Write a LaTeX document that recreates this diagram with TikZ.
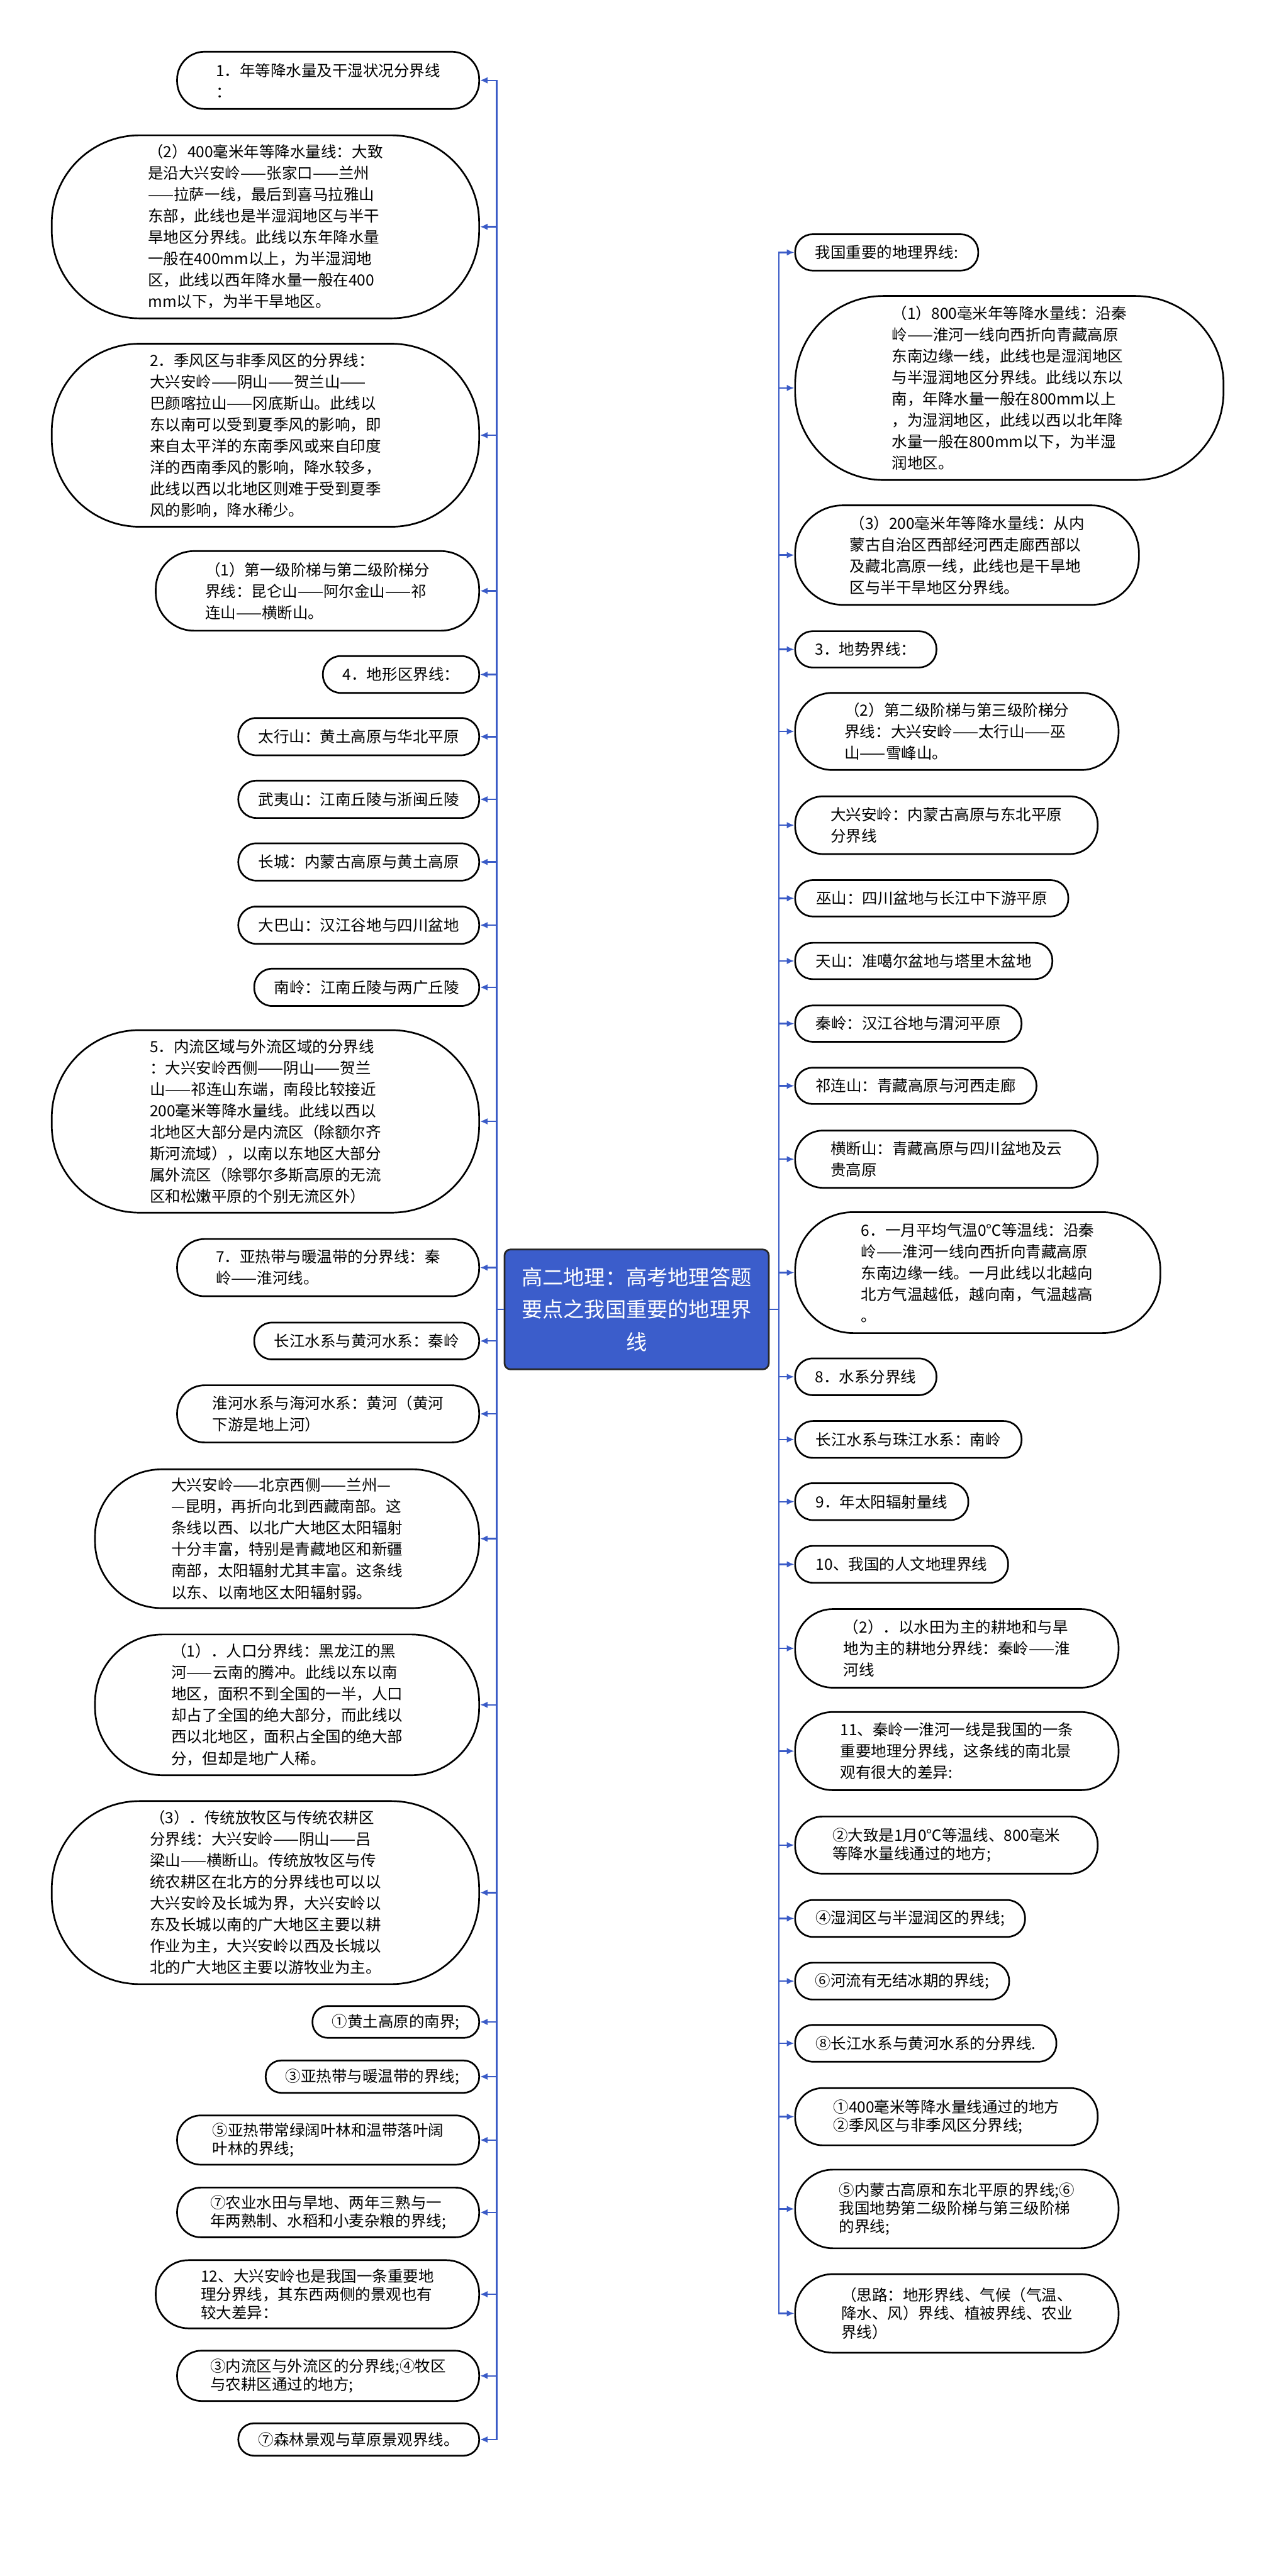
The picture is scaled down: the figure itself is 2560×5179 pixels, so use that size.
\documentclass[tikz,border=0pt]{standalone}
\usepackage{fontspec}
\setmainfont{Noto Sans CJK SC}
\usetikzlibrary{arrows.meta}
\definecolor{linkblue}{HTML}{3A5BC7}
\definecolor{rootblue}{HTML}{3B5DCB}
\tikzset{
  pillbox/.style 2 args={draw=black, line width=3.4pt, fill=white,
    minimum width=#1pt, minimum height=#2pt, rounded corners={0.48*#2pt},
    inner sep=0pt, align=left, font=\fontsize{31}{43}\selectfont},
  compact/.style={font=\fontsize{31}{37}\selectfont},
  conn/.style={draw=linkblue, line width=3pt, -{Latex[length=15pt,width=13pt]}},
  rootbox/.style={draw=black!85, line width=3.4pt, fill=rootblue, text=white,
    minimum width=531pt, minimum height=241pt, rounded corners=12pt,
    inner sep=0pt, align=center, font=\fontsize{42}{65}\selectfont}
}
\begin{document}
\begin{tikzpicture}[x=1pt,y=-1pt]
\fill[white] (0,0) rectangle (2560,5179);
\useasboundingbox (0,0) rectangle (2560,5179);

\node[rootbox] (root) at (1279.5,2632.5) {高二地理：高考地理答题\\要点之我国重要的地理界\\线};
\coordinate (lt) at (998,2632.5);
\coordinate (rt) at (1565,2632.5);

% ---------- left column ----------
\node[pillbox={607}{115}] (L1) at (659.5,161.5) {1．年等降水量及干湿状况分界线\\：};
\node[pillbox={859}{368}] (L2) at (533.5,456) {（2）400毫米年等降水量线：大致\\是沿大兴安岭——张家口——兰州\\——拉萨一线，最后到喜马拉雅山\\东部，此线也是半湿润地区与半干\\旱地区分界线。此线以东年降水量\\一般在400mm以上，为半湿润地\\区，此线以西年降水量一般在400\\mm以下，为半干旱地区。};
\node[pillbox={859}{368}] (L3) at (533.5,875) {2．季风区与非季风区的分界线：\\大兴安岭——阴山——贺兰山——\\巴颜喀拉山——冈底斯山。此线以\\东以南可以受到夏季风的影响，即\\来自太平洋的东南季风或来自印度\\洋的西南季风的影响，降水较多，\\此线以西以北地区则难于受到夏季\\风的影响，降水稀少。};
\node[pillbox={650}{160}] (L4) at (638,1188) {（1）第一级阶梯与第二级阶梯分\\界线：昆仑山——阿尔金山——祁\\连山——横断山。};
\node[pillbox={314}{74}] (L5) at (806,1356) {4．地形区界线：};
\node[pillbox={484}{75}] (L6) at (721,1481) {太行山：黄土高原与华北平原};
\node[pillbox={484}{75}] (L7) at (721,1607) {武夷山：江南丘陵与浙闽丘陵};
\node[pillbox={484}{75}] (L8) at (721,1733) {长城：内蒙古高原与黄土高原};
\node[pillbox={484}{75}] (L9) at (721,1860) {大巴山：汉江谷地与四川盆地};
\node[pillbox={452}{75}] (L10) at (737,1985) {南岭：江南丘陵与两广丘陵};
\node[pillbox={859}{367}] (L11) at (533.5,2254.5) {5．内流区域与外流区域的分界线\\：大兴安岭西侧——阴山——贺兰\\山——祁连山东端，南段比较接近\\200毫米等降水量线。此线以西以\\北地区大部分是内流区（除额尔齐\\斯河流域），以南以东地区大部分\\属外流区（除鄂尔多斯高原的无流\\区和松嫩平原的个别无流区外）};
\node[pillbox={607}{115}] (L12) at (659.5,2548.5) {7．亚热带与暖温带的分界线：秦\\岭——淮河线。};
\node[pillbox={452}{74}] (L13) at (737,2696) {长江水系与黄河水系：秦岭};
\node[pillbox={607}{115}] (L14) at (659.5,2842.5) {淮河水系与海河水系：黄河（黄河\\下游是地上河）};
\node[pillbox={772}{279}] (L15) at (577,3093.5) {大兴安岭——北京西侧——兰州—\\—昆明，再折向北到西藏南部。这\\条线以西、以北广大地区太阳辐射\\十分丰富，特别是青藏地区和新疆\\南部，太阳辐射尤其丰富。这条线\\以东、以南地区太阳辐射弱。};
\node[pillbox={772}{283}] (L16) at (577,3427.5) {（1）．人口分界线：黑龙江的黑\\河——云南的腾冲。此线以东以南\\地区，面积不到全国的一半，人口\\却占了全国的绝大部分，而此线以\\西以北地区，面积占全国的绝大部\\分，但却是地广人稀。};
\node[pillbox={859}{368}] (L17) at (533.5,3805) {（3）．传统放牧区与传统农耕区\\分界线：大兴安岭——阴山——吕\\梁山——横断山。传统放牧区与传\\统农耕区在北方的分界线也可以以\\大兴安岭及长城为界，大兴安岭以\\东及长城以南的广大地区主要以耕\\作业为主，大兴安岭以西及长城以\\北的广大地区主要以游牧业为主。};
\node[pillbox={335}{64}] (L18) at (795.5,4065) {①黄土高原的南界;};
\node[pillbox={429}{65}] (L19) at (748.5,4175) {③亚热带与暖温带的界线;};
\node[pillbox={607}{99},compact] (L20) at (659.5,4302.5) {⑤亚热带常绿阔叶林和温带落叶阔\\叶林的界线;};
\node[pillbox={607}{100},compact] (L21) at (659.5,4448) {⑦农业水田与旱地、两年三熟与一\\年两熟制、水稻和小麦杂粮的界线;};
\node[pillbox={650}{137},compact] (L22) at (638,4612.5) {12、大兴安岭也是我国一条重要地\\理分界线，其东西两侧的景观也有\\较大差异：};
\node[pillbox={607}{101},compact] (L23) at (659.5,4776.5) {③内流区与外流区的分界线;④牧区\\与农耕区通过的地方;};
\node[pillbox={484}{65}] (L24) at (721,4904.5) {⑦森林景观与草原景观界线。};

% ---------- right column ----------
\node[pillbox={368}{73}] (R1) at (1782,507.5) {我国重要的地理界线:};
\node[pillbox={861}{370}] (R2) at (2028.5,780) {（1）800毫米年等降水量线：沿秦\\岭——淮河一线向西折向青藏高原\\东南边缘一线，此线也是湿润地区\\与半湿润地区分界线。此线以东以\\南，年降水量一般在800mm以上\\，为湿润地区，此线以西以北年降\\水量一般在800mm以下，为半湿\\润地区。};
\node[pillbox={691}{200}] (R3) at (1943.5,1116) {（3）200毫米年等降水量线：从内\\蒙古自治区西部经河西走廊西部以\\及藏北高原一线，此线也是干旱地\\区与半干旱地区分界线。};
\node[pillbox={284}{73}] (R4) at (1740,1305.5) {3．地势界线：};
\node[pillbox={650}{155}] (R5) at (1923,1470.5) {（2）第二级阶梯与第三级阶梯分\\界线：大兴安岭——太行山——巫\\山——雪峰山。};
\node[pillbox={608}{116}] (R6) at (1902,1659) {大兴安岭：内蒙古高原与东北平原\\分界线};
\node[pillbox={549}{73}] (R7) at (1872.5,1806) {巫山：四川盆地与长江中下游平原};
\node[pillbox={517}{73}] (R8) at (1856.5,1932) {天山：准噶尔盆地与塔里木盆地};
\node[pillbox={455}{73}] (R9) at (1825.5,2058) {秦岭：汉江谷地与渭河平原};
\node[pillbox={485}{73}] (R10) at (1840.5,2183) {祁连山：青藏高原与河西走廊};
\node[pillbox={608}{115}] (R11) at (1902,2330.5) {横断山：青藏高原与四川盆地及云\\贵高原};
\node[pillbox={734}{243}] (R12) at (1965,2558.5) {6．一月平均气温0℃等温线：沿秦\\岭——淮河一线向西折向青藏高原\\东南边缘一线。一月此线以北越向\\北方气温越低，越向南，气温越高\\。};
\node[pillbox={284}{74}] (R13) at (1740,2768) {8．水系分界线};
\node[pillbox={455}{74}] (R14) at (1825.5,2894) {长江水系与珠江水系：南岭};
\node[pillbox={348}{74}] (R15) at (1772,3019) {9．年太阳辐射量线};
\node[pillbox={428}{74}] (R16) at (1812,3145) {10、我国的人文地理界线};
\node[pillbox={650}{158}] (R17) at (1923,3314) {（2）．以水田为主的耕地和与旱\\地为主的耕地分界线：秦岭——淮\\河线};
\node[pillbox={650}{157}] (R18) at (1923,3520.5) {11、秦岭一淮河一线是我国的一条\\重要地理分界线，这条线的南北景\\观有很大的差异:};
\node[pillbox={608}{115},compact] (R19) at (1902,3709.5) {②大致是1月0℃等温线、800毫米\\等降水量线通过的地方;};
\node[pillbox={462}{74}] (R20) at (1829,3857) {④湿润区与半湿润区的界线;};
\node[pillbox={430}{74}] (R21) at (1813,3983) {⑥河流有无结冰期的界线;};
\node[pillbox={525}{74}] (R22) at (1860.5,4108) {⑧长江水系与黄河水系的分界线.};
\node[pillbox={608}{115},compact] (R23) at (1902,4255.5) {①400毫米等降水量线通过的地方\\②季风区与非季风区分界线;};
\node[pillbox={650}{158},compact] (R24) at (1923,4441) {⑤内蒙古高原和东北平原的界线;⑥\\我国地势第二级阶梯与第三级阶梯\\的界线;};
\node[pillbox={650}{158},compact] (R25) at (1923,4651) {（思路：地形界线、气候（气温、\\降水、风）界线、植被界线、农业\\界线）};

% ---------- connectors ----------
\foreach \n in {L1,L2,L3,L4,L5,L6,L7,L8,L9,L10,L11,L12,L13,L14,L15,L16,L17,L18,L19,L20,L21,L22,L23,L24}
  \draw[conn] (root.west) -- (lt) |- (\n.east);
\foreach \n in {R1,R2,R3,R4,R5,R6,R7,R8,R9,R10,R11,R12,R13,R14,R15,R16,R17,R18,R19,R20,R21,R22,R23,R24,R25}
  \draw[conn] (root.east) -- (rt) |- (\n.west);
\end{tikzpicture}
\end{document}
